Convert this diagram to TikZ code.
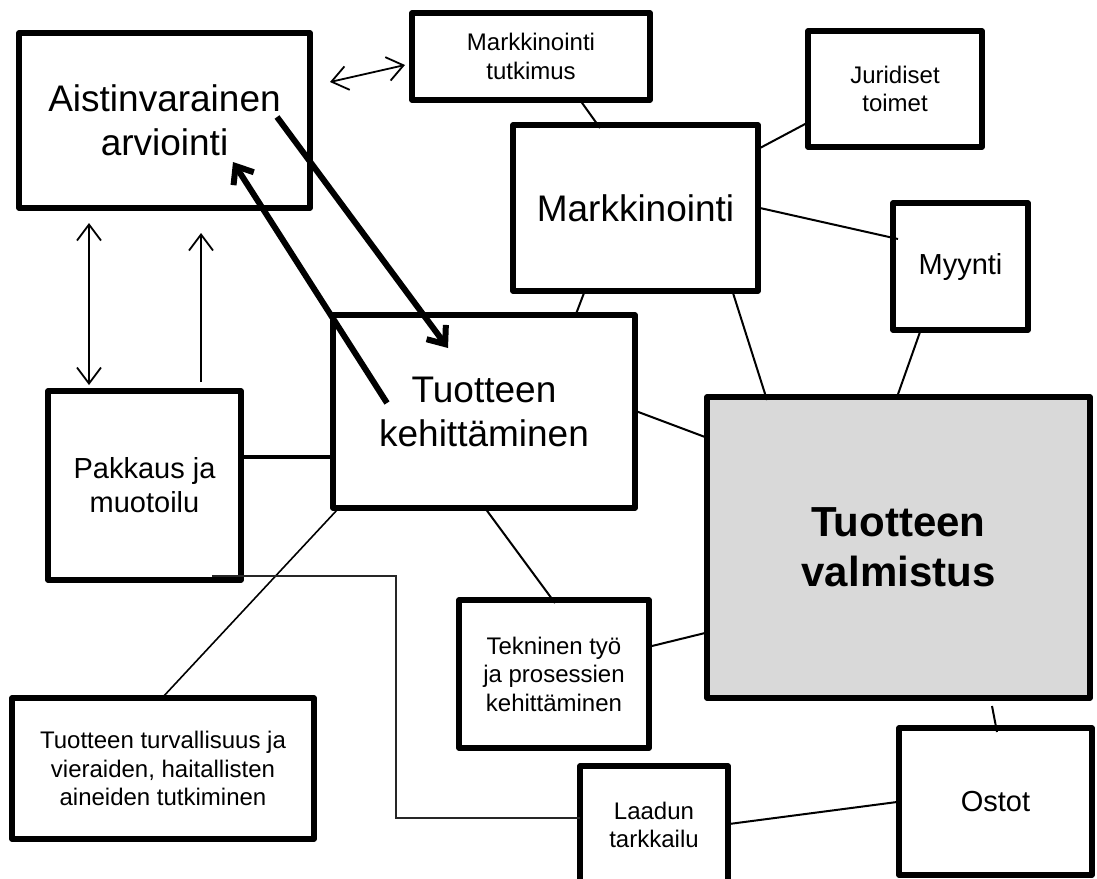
\documentclass[tikz,border=0pt]{standalone}
\usepackage{fontspec}
\setmainfont{Liberation Sans}
\usetikzlibrary{arrows.meta,calc}

\begin{document}
\begin{tikzpicture}[x=1pt,y=-1pt,
  box/.style={draw, line width=5.5pt, line join=round, inner sep=0pt, outer sep=0pt,
              align=center, fill=white},
  bigtext/.style={font=\fontsize{37}{44}\selectfont},
  midtext/.style={font=\fontsize{29}{34}\selectfont},
  smalltext/.style={font=\fontsize{24}{28.5}\selectfont},
  boldtext/.style={font=\fontsize{42}{50}\selectfont\bfseries},
  link/.style={line width=2pt},
  fineline/.style={line width=1.6pt},
  busline/.style={line width=1.4pt, black!85},
  heavyline/.style={line width=4.5pt},
  twoway/.style={line width=1.8pt, {Straight Barb[length=16pt,width=24pt]}-{Straight Barb[length=16pt,width=24pt]}},
  oneway/.style={line width=1.8pt, -{Straight Barb[length=16pt,width=24pt]}},
  heavyarrow/.style={line width=6pt, -{Straight Barb[length=15pt,width=24pt]}}
]
\useasboundingbox[fill=white] (0,0) rectangle (1097,878);

% boxes
\node[box, bigtext, minimum width=291pt, minimum height=175pt] (ais) at (164.5,120.5) {Aistinvarainen\\arviointi};
\node[box, smalltext, minimum width=238pt, minimum height=87pt] (tut) at (531,56.5) {Markkinointi\\tutkimus};
\node[box, smalltext, minimum width=174pt, minimum height=116pt] (jur) at (895,89) {Juridiset\\toimet};
\node[box, bigtext, minimum width=245pt, minimum height=166pt] (mk) at (635.5,208) {Markkinointi};
\node[box, midtext, minimum width=135pt, minimum height=127pt] (myy) at (960.5,266.5) {Myynti};
\node[box, midtext, minimum width=193pt, minimum height=189pt] (pak) at (144.5,485.5) {Pakkaus ja\\muotoilu};
\node[box, bigtext, minimum width=302pt, minimum height=193pt] (keh) at (484,411.5) {Tuotteen\\kehittäminen};
\node[box, boldtext, fill={rgb,255:red,217;green,217;blue,217}, minimum width=383pt, minimum height=301pt] (val) at (898.5,547.5) {Tuotteen\\valmistus};
\node[box, smalltext, minimum width=190pt, minimum height=148pt] (tek) at (554,674) {Tekninen työ\\ja prosessien\\kehittäminen};
\node[box, smalltext, minimum width=302pt, minimum height=141pt] (tur) at (163,768.5) {Tuotteen turvallisuus ja\\vieraiden, haitallisten\\aineiden tutkiminen};
\node[box, smalltext, minimum width=148pt, minimum height=118pt] (laa) at (654,825) {Laadun\\tarkkailu};
\node[box, midtext, minimum width=193pt, minimum height=147pt] (ost) at (995.5,801.5) {Ostot};

% plain links between boxes
\draw[link] ($(tut.north west)+(168,87)$) -- ($(mk.north west)+(87,3)$);
\draw[link] ($(mk.north west)+(247,23)$) -- ($(jur.north west)+(-1,92)$);
\draw[link] ($(mk.north west)+(247,83)$) -- ($(myy.north west)+(5,36)$);
\draw[link] ($(mk.north west)+(220,168)$) -- ($(val.north west)+(60,3)$);
\draw[link] ($(mk.north west)+(71,168)$) -- ($(keh.north west)+(243,-1)$);
\draw[link] ($(myy.north west)+(27,129)$) -- ($(val.north west)+(190,0)$);
\draw[link] ($(keh.north west)+(300,95)$) -- ($(val.north west)+(-2,40)$);
\draw[link] ($(keh.north west)+(152,193)$) -- ($(tek.north west)+(96,3)$);
\draw[link] ($(tek.north west)+(193,46)$) -- ($(val.north west)+(-2,236)$);
\draw[link] ($(val.north west)+(285,309)$) -- ($(ost.north west)+(98,4)$);
\draw[link] ($(laa.north west)+(149,58)$) -- ($(ost.north west)+(-2,74)$);
\draw[fineline] ($(keh.north west)+(4,195)$) -- ($(tur.north west)+(150,0)$);
\draw[heavyline] ($(pak.north west)+(193,66)$) -- ($(keh.north west)+(3,142)$);
\draw[busline] ($(pak.north west)+(164,185)$) -| (396,818) -- ($(laa.north west)+(0,52)$);

% arrows
\draw[twoway] ($(ais.north west)+(311,49)$) -- ($(tut.north west)+(-7,52)$);
\draw[twoway] ($(ais.north west)+(70,190)$) -- ($(pak.north west)+(41,-6)$);
\draw[oneway] ($(pak.north west)+(153,-9)$) -- ($(ais.north west)+(182,200)$);
\draw[heavyarrow] ($(ais.north west)+(258,84)$) -- ($(keh.north west)+(115,33)$);
\draw[heavyarrow] ($(keh.north west)+(54,88)$) -- ($(ais.north west)+(214,129)$);
\end{tikzpicture}
\end{document}
